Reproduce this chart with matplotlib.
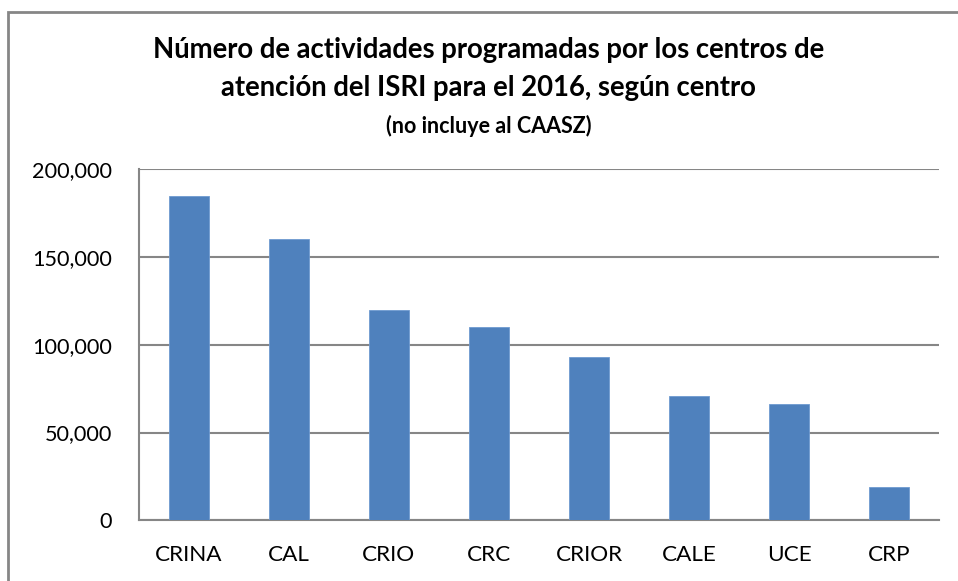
import matplotlib
matplotlib.use("Agg")
import matplotlib.pyplot as plt
from matplotlib.patches import Rectangle
from matplotlib.ticker import FuncFormatter

categories = ["CRINA", "CAL", "CRIO", "CRC", "CRIOR", "CALE", "UCE", "CRP"]
values = [185000, 160500, 120000, 110000, 93000, 71000, 66300, 19000]
yticks = [0, 50000, 100000, 150000, 200000]

plt.rcParams['font.family'] = ['Lato', 'DejaVu Sans']

W, H = 958, 581
fig = plt.figure(figsize=(W/100, H/100), dpi=100)
fig.patch.set_facecolor('white')

# outer chart border (left and top visible)
fig.add_artist(Rectangle((8/W, -0.1), 1.2, (H-12)/H + 0.1, transform=fig.transFigure,
                         fill=False, edgecolor='#868686', linewidth=2.0))

ax = fig.add_axes([138.7/W, 1-520.3/H, (939.3-138.7)/W, (520.3-169.3)/H])
x = list(range(len(categories)))
ax.bar(x, values, width=0.4, color='#4F81BD', edgecolor='#6f9ad0', linewidth=0.6, zorder=3)
ax.set_xlim(-0.5, len(categories)-0.5)
ax.set_ylim(0, 200000)
ax.set_yticks(yticks)
ax.yaxis.set_major_formatter(FuncFormatter(lambda v, p: f"{int(v):,}"))
ax.set_xticks(x)
ax.set_xticklabels(categories)
ax.grid(axis='y', color='#868686', linewidth=1.5, zorder=0)
ax.set_axisbelow(True)
for s in ['top', 'right']:
    ax.spines[s].set_visible(False)
ax.spines['left'].set_color('#868686')
ax.spines['bottom'].set_color('#868686')
ax.spines['left'].set_linewidth(1.5)
ax.spines['bottom'].set_linewidth(1.5)
ax.tick_params(axis='both', length=0, colors='black')
ax.tick_params(axis='y', pad=19, labelsize=15.6)
ax.tick_params(axis='x', pad=18, labelsize=16.2)

cx = 488.5 / W
fig.text(cx, 1-50/H, "Número de actividades programadas por los centros de",
         ha='center', va='center', fontsize=19.8, fontweight='bold')
fig.text(cx, 1-88/H, "atención del ISRI para el 2016, según centro",
         ha='center', va='center', fontsize=19.8, fontweight='bold')
fig.text(cx, 1-126/H, "(no incluye al CAASZ)",
         ha='center', va='center', fontsize=15.5, fontweight='bold')

fig.savefig("out.png", dpi=100)
